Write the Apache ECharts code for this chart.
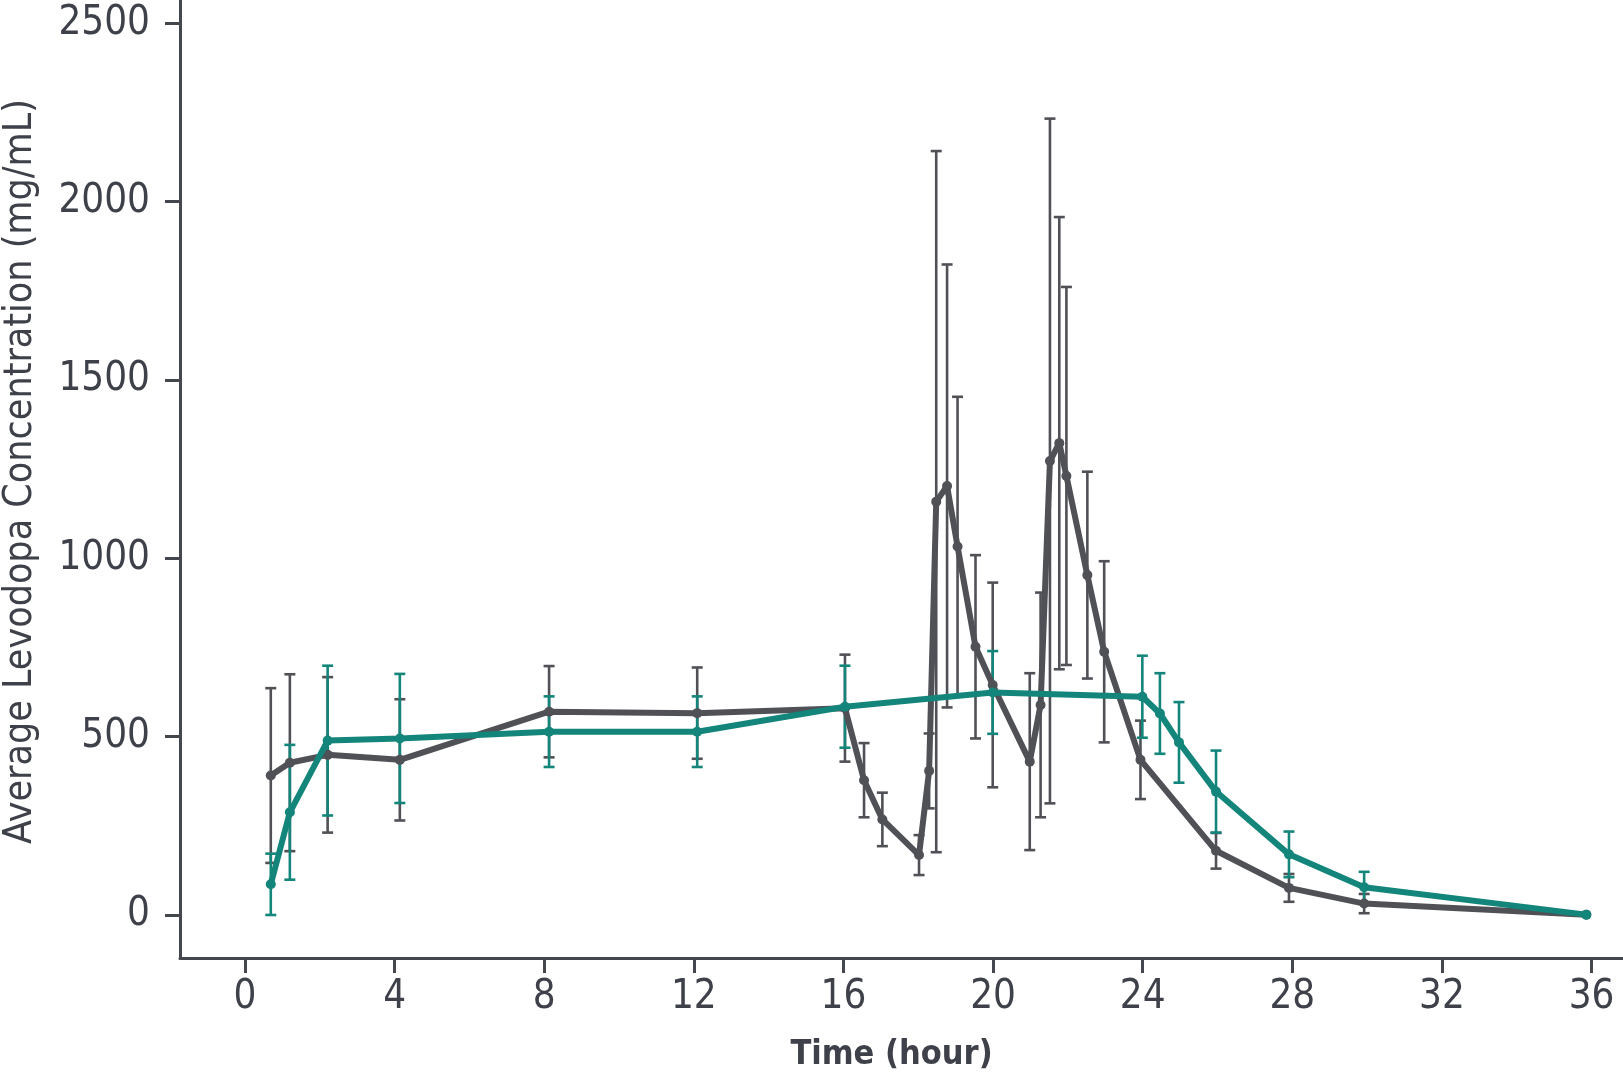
<!DOCTYPE html>
<html>
<head>
<meta charset="utf-8">
<script src="https://cdn.jsdelivr.net/npm/echarts@6/dist/echarts.min.js"></script>
<style>
html,body{margin:0;padding:0;background:#fff;}
#chart{width:1623px;height:1076px;}
</style>
</head>
<body>
<div id="chart"></div>
<script>
// ---- data ----
const grayTime = [0.69, 1.2, 2.21, 4.14, 8.13, 12.09, 16.04, 16.55, 17.04, 18.02, 18.29, 18.48, 18.77, 19.05, 19.53, 19.99, 20.98, 21.27, 21.52, 21.77, 21.96, 22.52, 22.97, 23.94, 25.96, 27.91, 29.92, 35.86];
const grayMean = [391, 427, 449, 435, 570, 566, 580, 378, 268, 168, 404, 1159, 1203, 1033, 752, 645, 430, 589, 1273, 1323, 1231, 953, 738, 435, 180, 76, 32, 1];
const graySD   = [245, 248, 218, 170, 128, 128, 150, 104, 75, 56, 105, 983, 621, 420, 257, 287, 248, 315, 960, 634, 530, 290, 254, 110, 50, 39, 27, 0];

const tealTime = [0.69, 1.2, 2.21, 4.14, 8.13, 12.09, 16.04, 19.99, 23.99, 24.46, 24.97, 25.96, 27.91, 29.92, 35.86];
const tealMean = [86, 288, 489, 495, 514, 514, 584, 624, 612, 565, 484, 346, 170, 78, 1];
const tealSD   = [86, 189, 210, 181, 99, 99, 115, 116, 115, 113, 113, 115, 64, 43, 0];

const xTicks = [0, 4, 8, 12, 16, 20, 24, 28, 32, 36];
const yTicks = [0, 500, 1000, 1500, 2000, 2500];

const xTitle = 'Time (hour)';
const yTitle = 'Average Levodopa Concentration (mg/mL)';

// ---- styling ----
const GRAY = '#505157';
const TEAL = '#13857a';
const AXIS = '#44474d';
const TEXT = '#3e4149';
const FONT = '"DejaVu Sans Condensed", "Liberation Sans Narrow", "Liberation Sans", sans-serif';

function pts(t, v){ return t.map((x,i)=>[x, v[i]]); }
function errs(t, v, e){ return t.map((x,i)=>[x, v[i]-e[i], v[i]+e[i]]); }

function errRender(color){
  return function(params, api){
    const x = api.value(0), lo = api.value(1), hi = api.value(2);
    if (!(hi - lo > 0)) return null;
    const a = api.coord([x, lo]), b = api.coord([x, hi]);
    const w = 5.5;
    const style = {stroke: color, lineWidth: 2.6, fill: null};
    return {type:'group', children:[
      {type:'line', shape:{x1:a[0], y1:a[1], x2:b[0], y2:b[1]}, style: style},
      {type:'line', shape:{x1:a[0]-w, y1:a[1], x2:a[0]+w, y2:a[1]}, style: style},
      {type:'line', shape:{x1:b[0]-w, y1:b[1], x2:b[0]+w, y2:b[1]}, style: style}
    ]};
  };
}

const chart = echarts.init(document.getElementById('chart'), null, {renderer:'canvas'});
chart.setOption({
  animation: false,
  backgroundColor: '#ffffff',
  grid: {left: 180, right: 0, top: 0, bottom: 118, containLabel: false, outerBoundsMode: 'none'},
  xAxis: {
    type: 'value', min: -1.737, max: 36.84,
    name: xTitle, nameLocation: 'middle', nameGap: 80,
    nameTextStyle: {fontFamily: FONT, fontSize: 34, fontWeight: 'bold', color: TEXT, padding: [0, 20, 0, 0]},
    axisLine: {show: true, onZero: false, lineStyle: {color: AXIS, width: 3}},
    axisTick: {show: true, length: 15, lineStyle: {color: AXIS, width: 3}, customValues: xTicks},
    axisLabel: {customValues: xTicks, fontFamily: FONT, fontSize: 40, color: TEXT, margin: 20, formatter: v => String(v)},
    splitLine: {show: false}
  },
  yAxis: {
    type: 'value', min: -120.6, max: 2565.6,
    name: yTitle, nameLocation: 'middle', nameGap: 140, nameRotate: 90,
    nameTextStyle: {fontFamily: FONT, fontSize: 39, color: TEXT, padding: [0, 0, 0, 15]},
    axisLine: {show: true, onZero: false, lineStyle: {color: AXIS, width: 3}},
    axisTick: {show: true, length: 15, lineStyle: {color: AXIS, width: 3}, customValues: yTicks},
    axisLabel: {customValues: yTicks, fontFamily: FONT, fontSize: 40, color: TEXT, margin: 30, formatter: v => String(v)},
    splitLine: {show: false}
  },
  series: [
    {type: 'custom', name: 'grayErr', renderItem: errRender(GRAY), data: errs(grayTime, grayMean, graySD), encode: {x: 0, y: [1, 2]}, z: 2, silent: true},
    {type: 'custom', name: 'tealErr', renderItem: errRender(TEAL), data: errs(tealTime, tealMean, tealSD), encode: {x: 0, y: [1, 2]}, z: 3, silent: true},
    {type: 'line', name: 'gray', data: pts(grayTime, grayMean), symbol: 'circle', symbolSize: 10, showSymbol: true,
      lineStyle: {color: GRAY, width: 6}, itemStyle: {color: GRAY}, z: 4},
    {type: 'line', name: 'teal', data: pts(tealTime, tealMean), symbol: 'circle', symbolSize: 10, showSymbol: true,
      lineStyle: {color: TEAL, width: 6}, itemStyle: {color: TEAL}, z: 5}
  ]
});
</script>
</body>
</html>
